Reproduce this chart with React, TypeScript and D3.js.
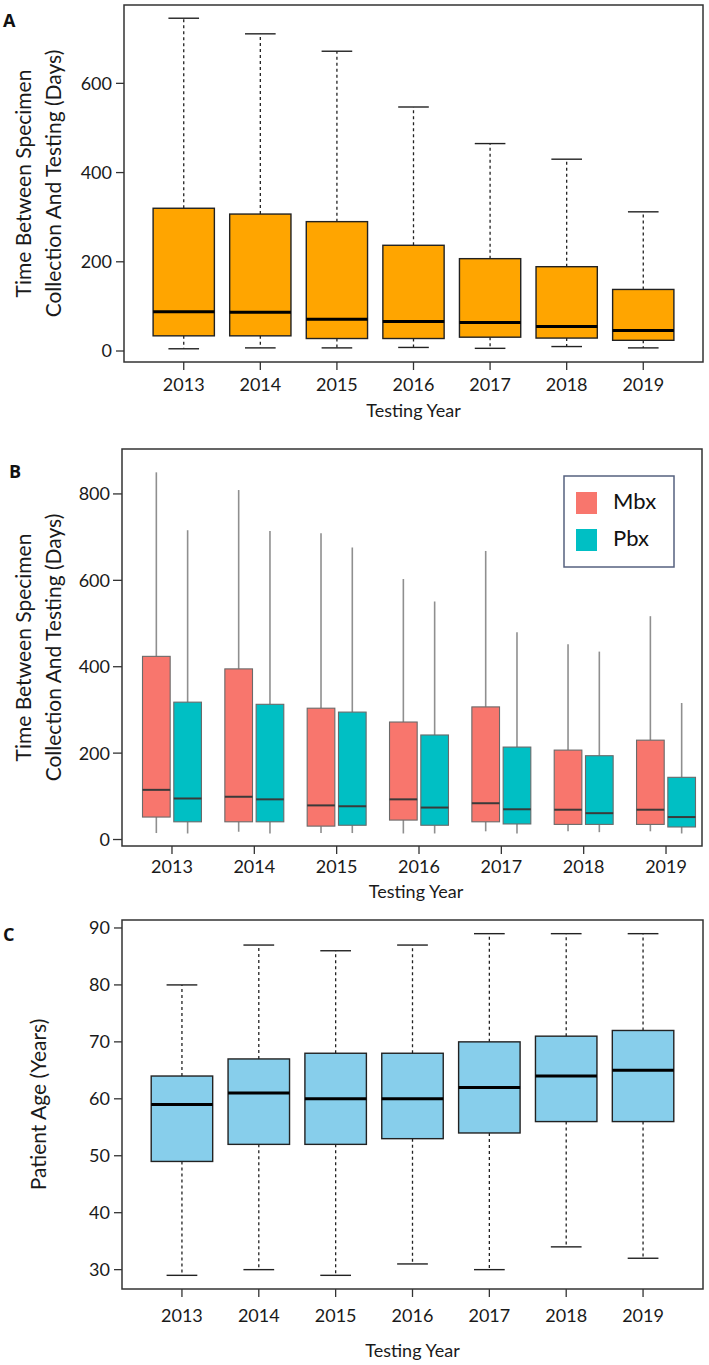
import React from "react";
import * as d3 from "d3";

const years = ["2013", "2014", "2015", "2016", "2017", "2018", "2019"];

// Panel A
const aMin = [5, 7, 7, 8, 6, 10, 7];
const aQ1 = [34, 34, 28, 28, 31, 29, 24];
const aMed = [88, 87, 71, 66, 64, 55, 46];
const aQ3 = [320, 307, 290, 237, 207, 189, 138];
const aMax = [746, 711, 672, 547, 465, 430, 312];
const aTicks = [0, 200, 400, 600];

// Panel B
const seriesNames = ["Mbx", "Pbx"];
const mbxMin = [15, 18, 15, 14, 19, 19, 19];
const mbxQ1 = [52, 41, 31, 45, 41, 35, 35];
const mbxMed = [115, 99, 79, 93, 84, 69, 69];
const mbxQ3 = [424, 395, 304, 272, 307, 207, 230];
const mbxMax = [850, 809, 709, 603, 668, 452, 517];
const pbxMin = [14, 14, 15, 14, 14, 17, 14];
const pbxQ1 = [41, 41, 33, 33, 36, 35, 29];
const pbxMed = [95, 93, 77, 74, 70, 61, 52];
const pbxQ3 = [318, 313, 295, 242, 214, 194, 144];
const pbxMax = [716, 714, 676, 551, 480, 435, 316];
const bTicks = [0, 200, 400, 600, 800];

// Panel C
const cMin = [29, 30, 29, 31, 30, 34, 32];
const cQ1 = [49, 52, 52, 53, 54, 56, 56];
const cMed = [59, 61, 60, 60, 62, 64, 65];
const cQ3 = [64, 67, 68, 68, 70, 71, 72];
const cMax = [80, 87, 86, 87, 89, 89, 89];
const cTicks = [30, 40, 50, 60, 70, 80, 90];

const FONT = "Lato, 'Open Sans', sans-serif";
const TXT = "#1a1a1a";
const LETTER_FONT = "'Open Sans', 'Liberation Sans', Arial, sans-serif";

type Stats = { min: number; q1: number; med: number; q3: number; max: number };
const mk = (mn: number[], q1: number[], md: number[], q3: number[], mx: number[]): Stats[] =>
  mn.map((_, i) => ({ min: mn[i], q1: q1[i], med: md[i], q3: q3[i], max: mx[i] }));

function RPanel(props: {
  stats: Stats[];
  left: number; right: number; top: number; bottom: number;
  ticks: number[]; fill: string;
  letter: string; letterY: number;
  yTitle: string[]; yTitleX: number[];
  tickLabelY: number; xTitleY: number;
}) {
  const { stats, left, right, top, bottom, ticks, fill } = props;
  const lo = d3.min(stats, (d) => d.min)!;
  const hi = d3.max(stats, (d) => d.max)!;
  const pad = (hi - lo) * 0.04;
  const y = d3.scaleLinear().domain([lo - pad, hi + pad]).range([bottom, top]);
  const n = stats.length;
  const ext = n * 0.04;
  const x = d3.scaleLinear().domain([0.5 - ext, n + 0.5 + ext]).range([left, right]);
  const bw = x(0.4) - x(0);
  const cw = x(0.2) - x(0);
  const cy = (top + bottom) / 2;
  return (
    <g>
      <text x={3} y={props.letterY} fontFamily={LETTER_FONT} fontWeight="bold" fontSize={18} fill="#111">{props.letter}</text>
      {stats.map((s, i) => {
        const cx = x(i + 1);
        return (
          <g key={i}>
            <line x1={cx} x2={cx} y1={y(s.q3)} y2={y(s.max)} stroke="#222" strokeWidth={1.3} strokeDasharray="3,3" />
            <line x1={cx} x2={cx} y1={y(s.q1)} y2={y(s.min)} stroke="#222" strokeWidth={1.3} strokeDasharray="3,3" />
            <line x1={cx - cw} x2={cx + cw} y1={y(s.max)} y2={y(s.max)} stroke="#222" strokeWidth={1.4} />
            <line x1={cx - cw} x2={cx + cw} y1={y(s.min)} y2={y(s.min)} stroke="#222" strokeWidth={1.4} />
            <rect x={cx - bw} y={y(s.q3)} width={2 * bw} height={y(s.q1) - y(s.q3)} fill={fill} stroke="#222" strokeWidth={1.4} />
            <line x1={cx - bw} x2={cx + bw} y1={y(s.med)} y2={y(s.med)} stroke="#000" strokeWidth={3} />
          </g>
        );
      })}
      <rect x={left} y={top} width={right - left} height={bottom - top} fill="none" stroke="#333" strokeWidth={1.5} />
      {ticks.map((t) => (
        <g key={t}>
          <line x1={left - 8} x2={left} y1={y(t)} y2={y(t)} stroke="#333" strokeWidth={1.3} />
          <text x={left - 12} y={y(t)} dy="0.36em" textAnchor="end" fontFamily={FONT} fontSize={18} fill={TXT}>{t}</text>
        </g>
      ))}
      {years.map((yr, i) => (
        <g key={yr}>
          <line x1={x(i + 1)} x2={x(i + 1)} y1={bottom} y2={bottom + 8} stroke="#333" strokeWidth={1.3} />
          <text x={x(i + 1)} y={props.tickLabelY} textAnchor="middle" fontFamily={FONT} fontSize={18} fill={TXT}>{yr}</text>
        </g>
      ))}
      <text x={(left + right) / 2} y={props.xTitleY} textAnchor="middle" fontFamily={FONT} fontSize={18} fill={TXT}>Testing Year</text>
      {props.yTitle.map((t, k) => (
        <text key={k} transform={`translate(${props.yTitleX[k]},${cy}) rotate(-90)`} textAnchor="middle" fontFamily={FONT} fontSize={21} fill={TXT}>{t}</text>
      ))}
    </g>
  );
}

function GPanel() {
  const left = 122, right = 702, top = 449, bottom = 846;
  const y = d3.scaleLinear().domain([-15, 904]).range([bottom, top]);
  const x = d3.scaleLinear().domain([-0.607, 6.437]).range([left, right]);
  const off = 0.19, hw = 0.168;
  const colors = ["#F8766D", "#00BFC4"];
  const series = [mk(mbxMin, mbxQ1, mbxMed, mbxQ3, mbxMax), mk(pbxMin, pbxQ1, pbxMed, pbxQ3, pbxMax)];
  const cy = (top + bottom) / 2;
  return (
    <g>
      <text x={9} y={478} fontFamily={LETTER_FONT} fontWeight="bold" fontSize={18} fill="#111">B</text>
      {series.map((ser, si) =>
        ser.map((s, i) => {
          const c = i + (si === 0 ? -off : off);
          const cx = x(c);
          const x0 = x(c - hw);
          const x1 = x(c + hw);
          return (
            <g key={si + "-" + i}>
              <line x1={cx} x2={cx} y1={y(s.q3)} y2={y(s.max)} stroke="#8f8f8f" strokeWidth={1.6} />
              <line x1={cx} x2={cx} y1={y(s.q1)} y2={y(s.min)} stroke="#8f8f8f" strokeWidth={1.6} />
              <rect x={x0} y={y(s.q3)} width={x1 - x0} height={y(s.q1) - y(s.q3)} fill={colors[si]} stroke="#6a6a6a" strokeWidth={1.1} />
              <line x1={x0} x2={x1} y1={y(s.med)} y2={y(s.med)} stroke="#3a3a3a" strokeWidth={2} />
            </g>
          );
        })
      )}
      <rect x={left} y={top} width={right - left} height={bottom - top} fill="none" stroke="#333" strokeWidth={1.5} />
      {bTicks.map((t) => (
        <g key={t}>
          <line x1={left - 9} x2={left} y1={y(t)} y2={y(t)} stroke="#333" strokeWidth={1.3} />
          <text x={left - 12} y={y(t)} dy="0.36em" textAnchor="end" fontFamily={FONT} fontSize={18} fill={TXT}>{t}</text>
        </g>
      ))}
      {years.map((yr, i) => (
        <g key={yr}>
          <line x1={x(i)} x2={x(i)} y1={bottom} y2={bottom + 8} stroke="#333" strokeWidth={1.3} />
          <text x={x(i)} y={873} textAnchor="middle" fontFamily={FONT} fontSize={18} fill={TXT}>{yr}</text>
        </g>
      ))}
      <text x={416} y={898} textAnchor="middle" fontFamily={FONT} fontSize={18} fill={TXT}>Testing Year</text>
      {["Time Between Specimen", "Collection And Testing (Days)"].map((t, k) => (
        <text key={k} transform={`translate(${[31, 61][k]},${cy}) rotate(-90)`} textAnchor="middle" fontFamily={FONT} fontSize={21} fill={TXT}>{t}</text>
      ))}
      <g>
        <rect x={564} y={476} width={110} height={91} fill="#fff" stroke="#56617f" strokeWidth={1.5} />
        {seriesNames.map((nm, k) => (
          <g key={nm}>
            <rect x={576} y={492 + k * 37} width={21} height={22} fill={colors[k]} />
            <text x={613} y={508.5 + k * 37} fontFamily={FONT} fontSize={22} fill="#111">{nm}</text>
          </g>
        ))}
      </g>
    </g>
  );
}

export default function App() {
  return (
    <div style={{ position: "absolute", left: 0, top: 0 }}>
      <svg width={709} height={1365} style={{ display: "block", background: "#fff" }}>
        <RPanel
          stats={mk(aMin, aQ1, aMed, aQ3, aMax)}
          left={124} right={703} top={5} bottom={362}
          ticks={aTicks} fill="#FFA500"
          letter="A" letterY={27}
          yTitle={["Time Between Specimen", "Collection And Testing (Days)"]} yTitleX={[31, 61]}
          tickLabelY={390.5} xTitleY={416.5}
        />
        <GPanel />
        <RPanel
          stats={mk(cMin, cQ1, cMed, cQ3, cMax)}
          left={122} right={703} top={920} bottom={1289}
          ticks={cTicks} fill="#87CEEB"
          letter="C" letterY={941}
          yTitle={["Patient Age (Years)"]} yTitleX={[46]}
          tickLabelY={1321.5} xTitleY={1356.5}
        />
      </svg>
    </div>
  );
}
